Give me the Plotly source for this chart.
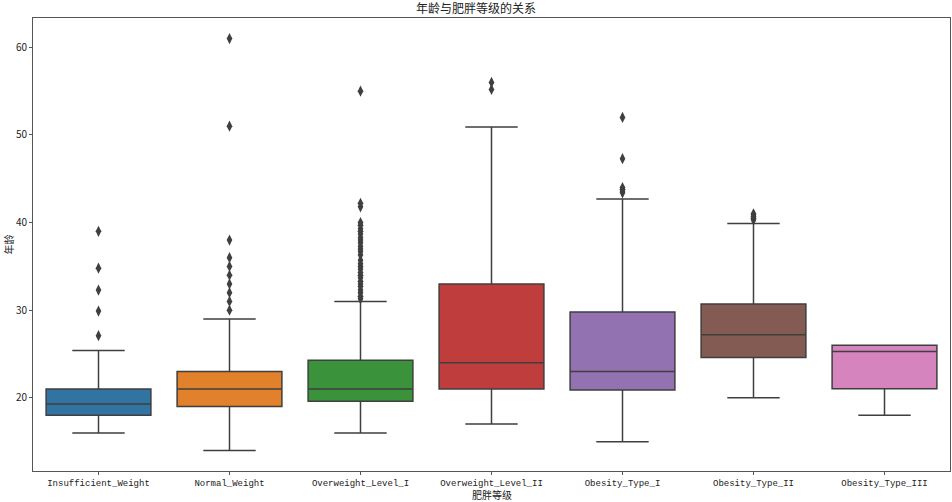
import plotly.graph_objects as go

# obesity level categories and age statistics
categories = [
    "Insufficient_Weight",
    "Normal_Weight",
    "Overweight_Level_I",
    "Overweight_Level_II",
    "Obesity_Type_I",
    "Obesity_Type_II",
    "Obesity_Type_III",
]
q1 = [18.0, 19.0, 19.6, 21.0, 20.9, 24.6, 21.05]
median = [19.3, 21.0, 21.0, 24.0, 23.0, 27.2, 25.3]
q3 = [21.0, 23.0, 24.3, 33.0, 29.8, 30.7, 26.0]
lower_fence = [16.0, 14.0, 16.0, 17.0, 15.0, 20.0, 18.0]
upper_fence = [25.4, 29.0, 31.0, 50.9, 42.7, 39.9, 26.0]

outliers = [
    [27.1, 29.9, 32.3, 34.8, 39.0],
    [30.0, 31.0, 32.0, 33.0, 34.0, 35.0, 36.0, 38.0, 51.0, 61.0],
    [31.3, 31.6, 32.0, 32.3, 32.7, 33.0, 33.3, 33.7, 34.0, 34.3, 34.7,
     35.0, 35.3, 35.7, 36.3, 36.7, 37.0, 37.3, 37.7, 38.0, 38.3, 38.7,
     39.0, 39.3, 39.7, 40.0, 41.8, 42.2, 55.0],
    [55.2, 56.0],
    [43.4, 43.6, 43.8, 44.0, 47.3, 52.0],
    [40.3, 40.5, 40.7, 40.9, 41.0],
    [],
]

colors = ["#3274a1", "#e1812c", "#3a923a", "#c03d3e", "#9372b2", "#845b53", "#d684bd"]
line_gray = "#3f3f3f"

fig = go.Figure()
for i, cat in enumerate(categories):
    fig.add_trace(
        go.Box(
            x=[cat],
            q1=[q1[i]],
            median=[median[i]],
            q3=[q3[i]],
            lowerfence=[lower_fence[i]],
            upperfence=[upper_fence[i]],
            boxpoints=False,
            width=0.8,
            whiskerwidth=0.5,
            fillcolor=colors[i],
            line=dict(color=line_gray, width=1.5),
            hoverinfo="skip",
        )
    )
    if outliers[i]:
        fig.add_trace(
            go.Scatter(
                x=[cat] * len(outliers[i]),
                y=outliers[i],
                mode="markers",
                marker=dict(symbol="diamond-tall", size=8, color=line_gray),
                hoverinfo="skip",
            )
        )

axis_common = dict(
    showline=True,
    linecolor="#555555",
    linewidth=1,
    mirror=True,
    ticks="outside",
    ticklen=3,
    tickcolor="#555555",
    showgrid=False,
    zeroline=False,
    automargin=False,
)

fig.update_layout(
    width=952,
    height=502,
    plot_bgcolor="white",
    paper_bgcolor="white",
    showlegend=False,
    boxmode="overlay",
    margin=dict(l=33, r=2, t=18, b=31),
    font=dict(family="Noto Sans CJK SC, sans-serif", size=11, color="#222222"),
    title=dict(
        text="年龄与肥胖等级的关系",
        x=0.5,
        xanchor="center",
        y=0.99,
        yanchor="top",
        font=dict(size=12, color="#222222"),
    ),
    xaxis=dict(
        range=[-0.5, 6.5],
        tickfont=dict(family="Liberation Mono, DejaVu Sans Mono, monospace", size=9),
        **axis_common,
    ),
    yaxis=dict(
        title=dict(text="年龄", standoff=0, font=dict(size=10)),
        range=[11.65, 63.35],
        tickvals=[20, 30, 40, 50, 60],
        tickfont=dict(size=10),
        **axis_common,
    ),
    # x-axis title placed by hand so it sits below the tick labels
    annotations=[
        dict(
            text="肥胖等级",
            xref="paper",
            yref="paper",
            x=0.5,
            y=0,
            xanchor="center",
            yanchor="top",
            yshift=-15,
            borderpad=0,
            showarrow=False,
            font=dict(size=10),
        )
    ],
)

# drop the browser's default page margin so the figure fills the window
fig.write_html(
    "out.html",
    config={"displayModeBar": False},
    post_script="document.body.style.margin='0';document.body.style.overflow='hidden';",
)
